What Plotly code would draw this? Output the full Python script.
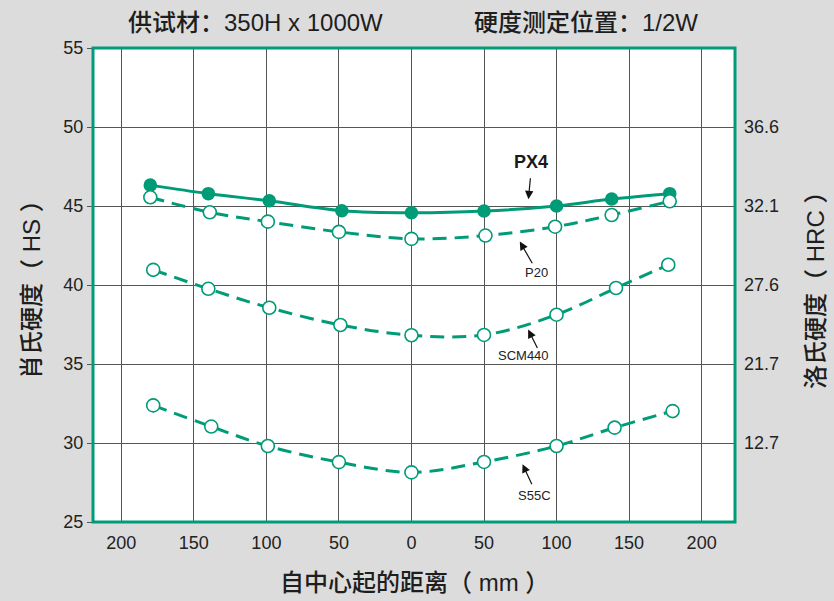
import plotly.graph_objects as go

# ---- data ----
px4_x = [-180, -140, -98, -48, 0, 50, 100, 138, 178]
px4_y = [46.32, 45.78, 45.33, 44.70, 44.57, 44.68, 45.00, 45.44, 45.78]

p20_x = [-180, -139, -99, -50, 0, 51, 99, 138, 178]
p20_y = [45.55, 44.60, 44.01, 43.36, 42.92, 43.13, 43.69, 44.43, 45.30]

scm_x = [-178, -140, -98, -49, 0, 50, 100, 141, 177]
scm_y = [40.96, 39.76, 38.56, 37.47, 36.82, 36.84, 38.12, 39.81, 41.28]

s55_x = [-178, -138, -99, -50, 0, 50, 100, 140, 180]
s55_y = [32.38, 31.04, 29.81, 28.79, 28.14, 28.80, 29.81, 30.97, 32.02]

x_tickvals = [-200, -150, -100, -50, 0, 50, 100, 150, 200]
x_ticktext = ["200", "150", "100", "50", "0", "50", "100", "150", "200"]
y_tickvals = [25, 30, 35, 40, 45, 50, 55]
hrc_tickvals = [50, 45, 40, 35, 30]
hrc_ticktext = ["36.6", "32.1", "27.6", "21.7", "12.7"]

GREEN = "#009b77"
FONT = "Liberation Sans, Noto Sans CJK SC, sans-serif"
CJK = "Liberation Sans, Noto Sans CJK SC, sans-serif"

W, H = 834, 601
L, R, T, B = 93, 99, 47.6, 78.5
pw, ph = W - L - R, H - T - B

fig = go.Figure()

def add_series(x, y, filled, dash):
    fig.add_trace(go.Scatter(
        x=x, y=y, mode="lines+markers",
        line=dict(color=GREEN, width=3, shape="spline", smoothing=1, dash=dash),
        marker=dict(size=12 if filled else 13,
                    color=GREEN if filled else "white",
                    line=dict(color=GREEN, width=1.6)),
        showlegend=False, cliponaxis=False))

add_series(px4_x, px4_y, True, "solid")
add_series(p20_x, p20_y, False, "14px,8px")
add_series(scm_x, scm_y, False, "14px,8px")
add_series(s55_x, s55_y, False, "14px,8px")

# dummy trace for secondary axis
fig.add_trace(go.Scatter(x=[0], y=[40], yaxis="y2", mode="markers",
                         marker=dict(opacity=0), showlegend=False, hoverinfo="skip"))

def px_to_x(p):
    return (p - 411.7) / 1.45
def py_to_y(p):
    return 45 - (p - 206) / 15.85
def ppx(p):
    return (p - L) / pw
def ppy(p):
    return (H - B - p) / ph

ann = []
ann.append(dict(x=px_to_x(531.5), y=py_to_y(162), text="<b>PX4</b>", showarrow=False,
                font=dict(family=FONT, size=18, color="#1a1a1a")))
ann.append(dict(x=px_to_x(537), y=py_to_y(273), text="P20", showarrow=False,
                font=dict(family=FONT, size=13, color="#222")))
ann.append(dict(x=px_to_x(524), y=py_to_y(356), text="SCM440", showarrow=False,
                font=dict(family=FONT, size=13, color="#222")))
ann.append(dict(x=px_to_x(535), y=py_to_y(496), text="S55C", showarrow=False,
                font=dict(family=FONT, size=13, color="#222")))
arrows = [
    (530.7, 176.7, 528.6, 199.3),
    (533.3, 265, 520, 241.7),
    (538.3, 350, 528.3, 330),
    (532.7, 486.7, 522.7, 465),
]
for tx, ty, hx, hy in arrows:
    ann.append(dict(x=px_to_x(hx), y=py_to_y(hy), ax=px_to_x(tx), ay=py_to_y(ty),
                    xref="x", yref="y", axref="x", ayref="y", text="",
                    showarrow=True, arrowhead=2, arrowsize=1.4, arrowwidth=1.2,
                    arrowcolor="#111"))

# header texts and axis titles (paper coordinates)
paper_texts = [
    ("供试材：350H x 1000W", 256, 22, 0, 24),
    ("硬度测定位置：1/2W", 586, 22, 0, 24),
    ("自中心起的距离（ mm ）", 414, 583, 0, 24),
    ("肖氏硬度（ HS ）", 32, 284, -90, 24),
    ("洛氏硬度（ HRC ）", 816, 285, -90, 24),
]
for txt, x, y, ang, sz in paper_texts:
    ann.append(dict(x=ppx(x), y=ppy(y), xref="paper", yref="paper", text=txt,
                    xanchor="center", yanchor="middle", textangle=ang,
                    showarrow=False,
                    font=dict(family=CJK, size=sz, color="#1e1e1e", weight=500)))

fig.update_layout(
    width=W, height=H,
    margin=dict(l=L, r=R, t=T, b=B),
    paper_bgcolor="#dcdcdc", plot_bgcolor="white",
    font=dict(family=FONT, size=17, color="#222"),
    hovermode=False,
    xaxis=dict(range=[-219.5, 223], tickvals=x_tickvals, ticktext=x_ticktext,
               showgrid=True, gridcolor="#555", gridwidth=1.3, zeroline=False,
               ticks="", ticklabelstandoff=8, automargin=False,
               showline=False, tickfont=dict(size=18)),
    yaxis=dict(range=[25, 55], tickvals=y_tickvals, showgrid=True, gridcolor="#555",
               gridwidth=1.3, zeroline=False, ticks="outside", ticklen=5, tickcolor="#555",
               automargin=False, tickfont=dict(size=18)),
    yaxis2=dict(range=[25, 55], overlaying="y", side="right", tickvals=hrc_tickvals,
                ticktext=hrc_ticktext, showgrid=False, zeroline=False, automargin=False,
                tickfont=dict(size=18), ticks="", ticklabelstandoff=8),
    annotations=ann,
    shapes=[dict(type="rect", xref="paper", yref="paper", x0=0, y0=0, x1=1, y1=1,
                 line=dict(color=GREEN, width=3), layer="above")],
)

fig.write_html("out.html", config={"displayModeBar": False},
               post_script="document.body.style.margin='0';document.body.style.background='#dcdcdc';")
